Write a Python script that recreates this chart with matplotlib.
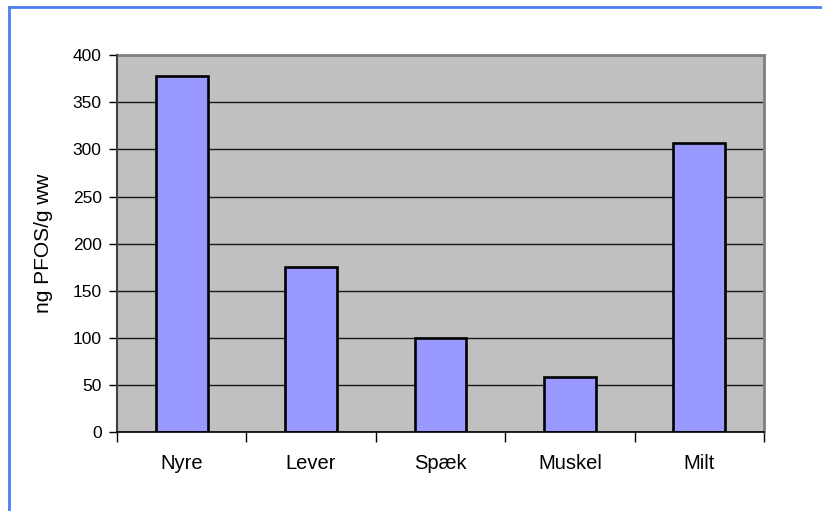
import numpy as np
import matplotlib.pyplot as plt
from matplotlib.lines import Line2D

plt.rcParams['font.family'] = ['Liberation Sans', 'DejaVu Sans']

# --- data ---
organer = ["Nyre", "Lever", "Spæk", "Muskel", "Milt"]
pfos_ng_g = [378, 175, 100, 59, 307]
y_ticks = [0, 50, 100, 150, 200, 250, 300, 350, 400]

fig = plt.figure(figsize=(8.22, 5.11), dpi=100)
ax = fig.add_axes([117 / 822, 1 - 432.4 / 511, (764 - 117) / 822, (432.4 - 55) / 511])

x = np.arange(len(organer))
ax.bar(x, pfos_ng_g, width=0.4, color="#9999FF", edgecolor="black",
       linewidth=1.9, zorder=3)

ax.set_facecolor("#C0C0C0")
ax.set_xlim(-0.5, len(organer) - 0.5)
ax.set_ylim(0, 400)
ax.set_yticks(y_ticks)
ax.yaxis.grid(True, color="#1a1a1a", linewidth=1.0, zorder=1)
ax.set_axisbelow(True)

# kategorier: etiketter i midten, tick-streger på grænserne
ax.set_xticks(x)
ax.set_xticklabels(organer, fontsize=14.5)
ax.set_xticks(np.arange(-0.5, len(organer)), minor=True)
ax.tick_params(axis="x", which="major", length=0, pad=15.5)
ax.tick_params(axis="x", which="minor", length=7, width=1, color="black",
               direction="out")
ax.tick_params(axis="y", length=6, width=1, color="black", direction="out",
               pad=5, labelsize=12.5)

for side in ("top", "right"):
    ax.spines[side].set_color("#808080")
    ax.spines[side].set_linewidth(2)
ax.spines["left"].set_color("#404040")
ax.spines["left"].set_linewidth(1.5)
ax.spines["bottom"].set_color("black")
ax.spines["bottom"].set_linewidth(1.2)
ax.spines["left"].set_zorder(4)
ax.spines["bottom"].set_zorder(4)

ax.set_ylabel("ng PFOS/g ww", fontsize=15, labelpad=14)

# blå ramme om hele diagrammet (kun top og venstre er synlige)
fig.add_artist(Line2D([9 / 822, 9 / 822], [0, 1 - 7 / 511],
                      transform=fig.transFigure, color="#4D7CF5", linewidth=2))
fig.add_artist(Line2D([9 / 822, 1], [1 - 7 / 511, 1 - 7 / 511],
                      transform=fig.transFigure, color="#4D7CF5", linewidth=2))

fig.savefig("out.png", dpi=100)
